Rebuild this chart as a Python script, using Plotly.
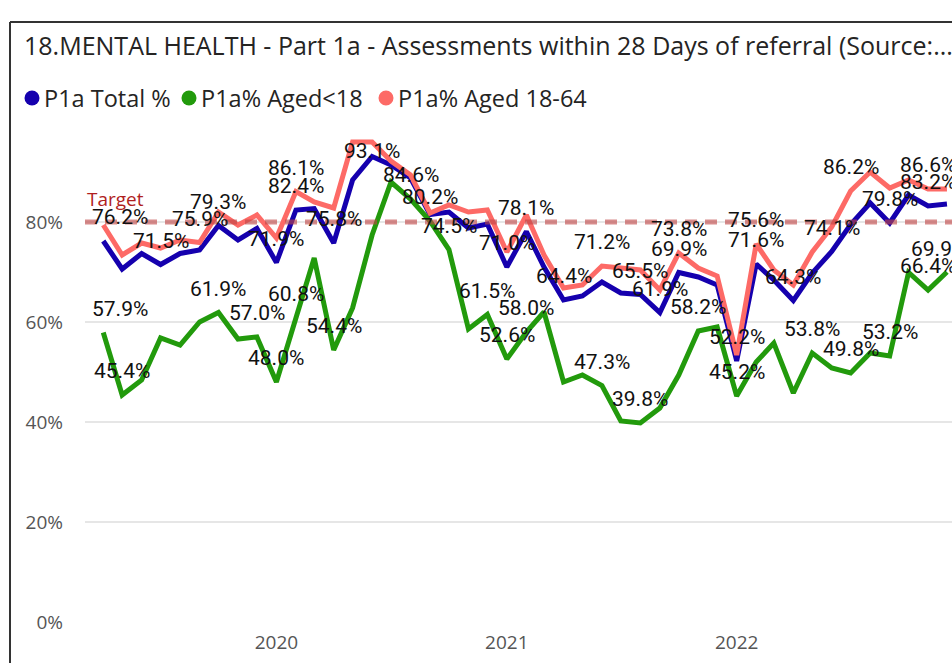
import plotly.graph_objects as go
import pandas as pd

# ---------------- data ----------------
total_pct = [76.2, 70.6, 73.7, 71.5, 73.7, 74.4, 79.3, 76.4, 78.7, 71.9,
             82.4, 82.7, 75.8, 88.4, 93.1, 91.4, 88.8, 81.5, 82.0, 78.8,
             79.6, 71.0, 78.1, 71.0, 64.4, 65.2, 68.0, 65.8, 65.5, 61.9,
             69.9, 69.0, 67.4, 52.2, 71.6, 68.4, 64.3, 69.8, 74.1, 79.5,
             83.8, 79.8, 85.4, 83.2, 83.6]
aged_under_18 = [57.9, 45.4, 48.4, 56.8, 55.4, 60.0, 61.9, 56.6, 57.0, 48.0,
                 60.8, 72.8, 54.4, 62.8, 77.4, 88.0, 84.6, 80.2, 74.5, 58.6,
                 61.5, 52.6, 58.0, 62.0, 48.0, 49.4, 47.3, 40.2, 39.8, 42.8,
                 49.4, 58.2, 59.0, 45.2, 52.0, 55.8, 45.8, 53.8, 50.8, 49.8,
                 53.8, 53.2, 69.9, 66.4, 70.0]
aged_18_64 = [79.4, 73.4, 75.8, 74.8, 76.4, 75.9, 82.0, 79.4, 81.4, 76.8,
              86.1, 84.0, 82.8, 96.0, 96.0, 92.2, 89.4, 81.8, 83.4, 82.0,
              82.4, 74.0, 81.4, 73.4, 66.8, 67.4, 71.2, 70.8, 70.4, 66.4,
              73.8, 70.8, 69.2, 53.4, 75.6, 70.4, 67.4, 74.0, 79.0, 86.2,
              90.0, 86.8, 88.4, 86.6, 86.6]
months = pd.date_range("2019-04-01", periods=len(total_pct), freq="MS")
target_value = 80
series_names = ["P1a Total %", "P1a% Aged<18", "P1a% Aged 18-64"]
y_tick_values = [0, 20, 40, 60, 80]
y_tick_labels = ["0%", "20%", "40%", "60%", "80%"]
year_tick_values = ["2020-01-01", "2021-01-01", "2022-01-01"]
year_tick_labels = ["2020", "2021", "2022"]
title_text = "18.MENTAL HEALTH - Part 1a - Assessments within 28 Days of referral (Source:..."

# which points carry a visible data label
labelled_total = [0, 3, 6, 9, 10, 12, 14, 21, 22, 24, 28, 29, 30, 33, 34, 36, 38, 41, 43]
labelled_u18 = [0, 1, 6, 8, 9, 10, 12, 16, 17, 18, 20, 21, 22, 26, 28, 31, 33, 37, 39, 41, 42, 43]
labelled_18_64 = [5, 10, 26, 30, 34, 39, 43]

# ---------------- styling ----------------
W, H = 952, 663
ML, MR, MT, MB = 85, 0, 122, 41
PW, PH = W - ML - MR, H - MT - MB
COLORS = ["#1500AE", "#229A0C", "#FD6A66"]
LABEL_FONT = dict(family="DIN, Roboto, sans-serif", size=21, color="#111111")
UI_FONT = "Segoe UI, Open Sans, sans-serif"


def px_x(p):
    return (p - ML) / PW


def px_y(p):
    return (H - MB - p) / PH


fig = go.Figure()
for name, vals, col in zip(series_names, [total_pct, aged_under_18, aged_18_64], COLORS):
    fig.add_trace(go.Scatter(x=months, y=vals, mode="lines", name=name,
                             line=dict(color=col, width=5), showlegend=False,
                             hoverinfo="skip"))

# data labels
label_style = {("t", 14): dict(yshift=6), ("t", 0): dict(xshift=17),
               ("g", 0): dict(xshift=17), ("g", 42): dict(xanchor="left", xshift=0)}
annotations = []
for key, vals, idxs in [("t", total_pct, labelled_total), ("g", aged_under_18, labelled_u18),
                        ("r", aged_18_64, labelled_18_64)]:
    for i in idxs:
        st = dict(xanchor="center", yanchor="middle", yshift=24, xshift=0)
        st.update(label_style.get((key, i), {}))
        annotations.append(dict(x=months[i], y=vals[i], xref="x", yref="y",
                                text=f"{vals[i]:.1f}%", showarrow=False,
                                font=LABEL_FONT, **st))

# title
annotations.append(dict(x=px_x(22), y=px_y(45), xref="paper", yref="paper",
                        text=title_text, showarrow=False, xanchor="left", yanchor="middle",
                        font=dict(family=UI_FONT, size=25, color="#252423")))
# legend (circle + text)
legend_circle_x = [32, 189, 386]
legend_text_x = [42, 199, 396]
shapes = []
for name, col, cx, tx in zip(series_names, COLORS, legend_circle_x, legend_text_x):
    shapes.append(dict(type="circle", xref="paper", yref="paper",
                       xsizemode="pixel", ysizemode="pixel",
                       xanchor=px_x(cx), yanchor=px_y(98), x0=-7.5, x1=7.5, y0=-7.5, y1=7.5,
                       fillcolor=col, line=dict(width=0)))
    annotations.append(dict(x=px_x(tx), y=px_y(98), xref="paper", yref="paper",
                            text=name, showarrow=False, xanchor="left", yanchor="middle",
                            font=dict(family=UI_FONT, size=23.5, color="#252423")))
# target line + label
shapes.append(dict(type="line", xref="paper", yref="y", x0=0, x1=1,
                   y0=target_value, y1=target_value, layer="above",
                   line=dict(color="rgba(190,70,70,0.62)", width=5, dash="12px,8px")))
annotations.append(dict(x=0, y=target_value, xref="paper", yref="y", text="Target",
                        showarrow=False, xanchor="left", yanchor="middle", yshift=23,
                        font=dict(family=UI_FONT, size=19, color="#B01E1E")))
# visual frame
shapes.append(dict(type="line", xref="paper", yref="paper", x0=px_x(10), x1=px_x(10),
                   y0=px_y(22), y1=px_y(H + 5), line=dict(color="#333333", width=2)))
shapes.append(dict(type="line", xref="paper", yref="paper", x0=px_x(10), x1=px_x(W + 5),
                   y0=px_y(22), y1=px_y(22), line=dict(color="#333333", width=2)))

fig.update_layout(
    width=W, height=H, margin=dict(l=ML, r=MR, t=MT, b=MB),
    paper_bgcolor="white", plot_bgcolor="white", showlegend=False,
    annotations=annotations, shapes=shapes,
    xaxis=dict(type="date", range=["2019-03-03", "2022-12-09"], tickvals=year_tick_values,
               ticktext=year_tick_labels, showgrid=False, zeroline=False, showline=False,
               ticks="", tickfont=dict(family=UI_FONT, size=19, color="#555555"),
               ticklabelstandoff=7),
    yaxis=dict(range=[0, 100], tickvals=y_tick_values, ticktext=y_tick_labels,
               showgrid=True, gridcolor="#E6E6E6", gridwidth=1.5, zeroline=False,
               showline=False, ticks="", ticklabelstandoff=21,
               tickfont=dict(family=UI_FONT, size=19, color="#555555")),
)
fig.write_html("out.html", config={"displayModeBar": False},
               post_script="document.body.style.margin='0px';")
